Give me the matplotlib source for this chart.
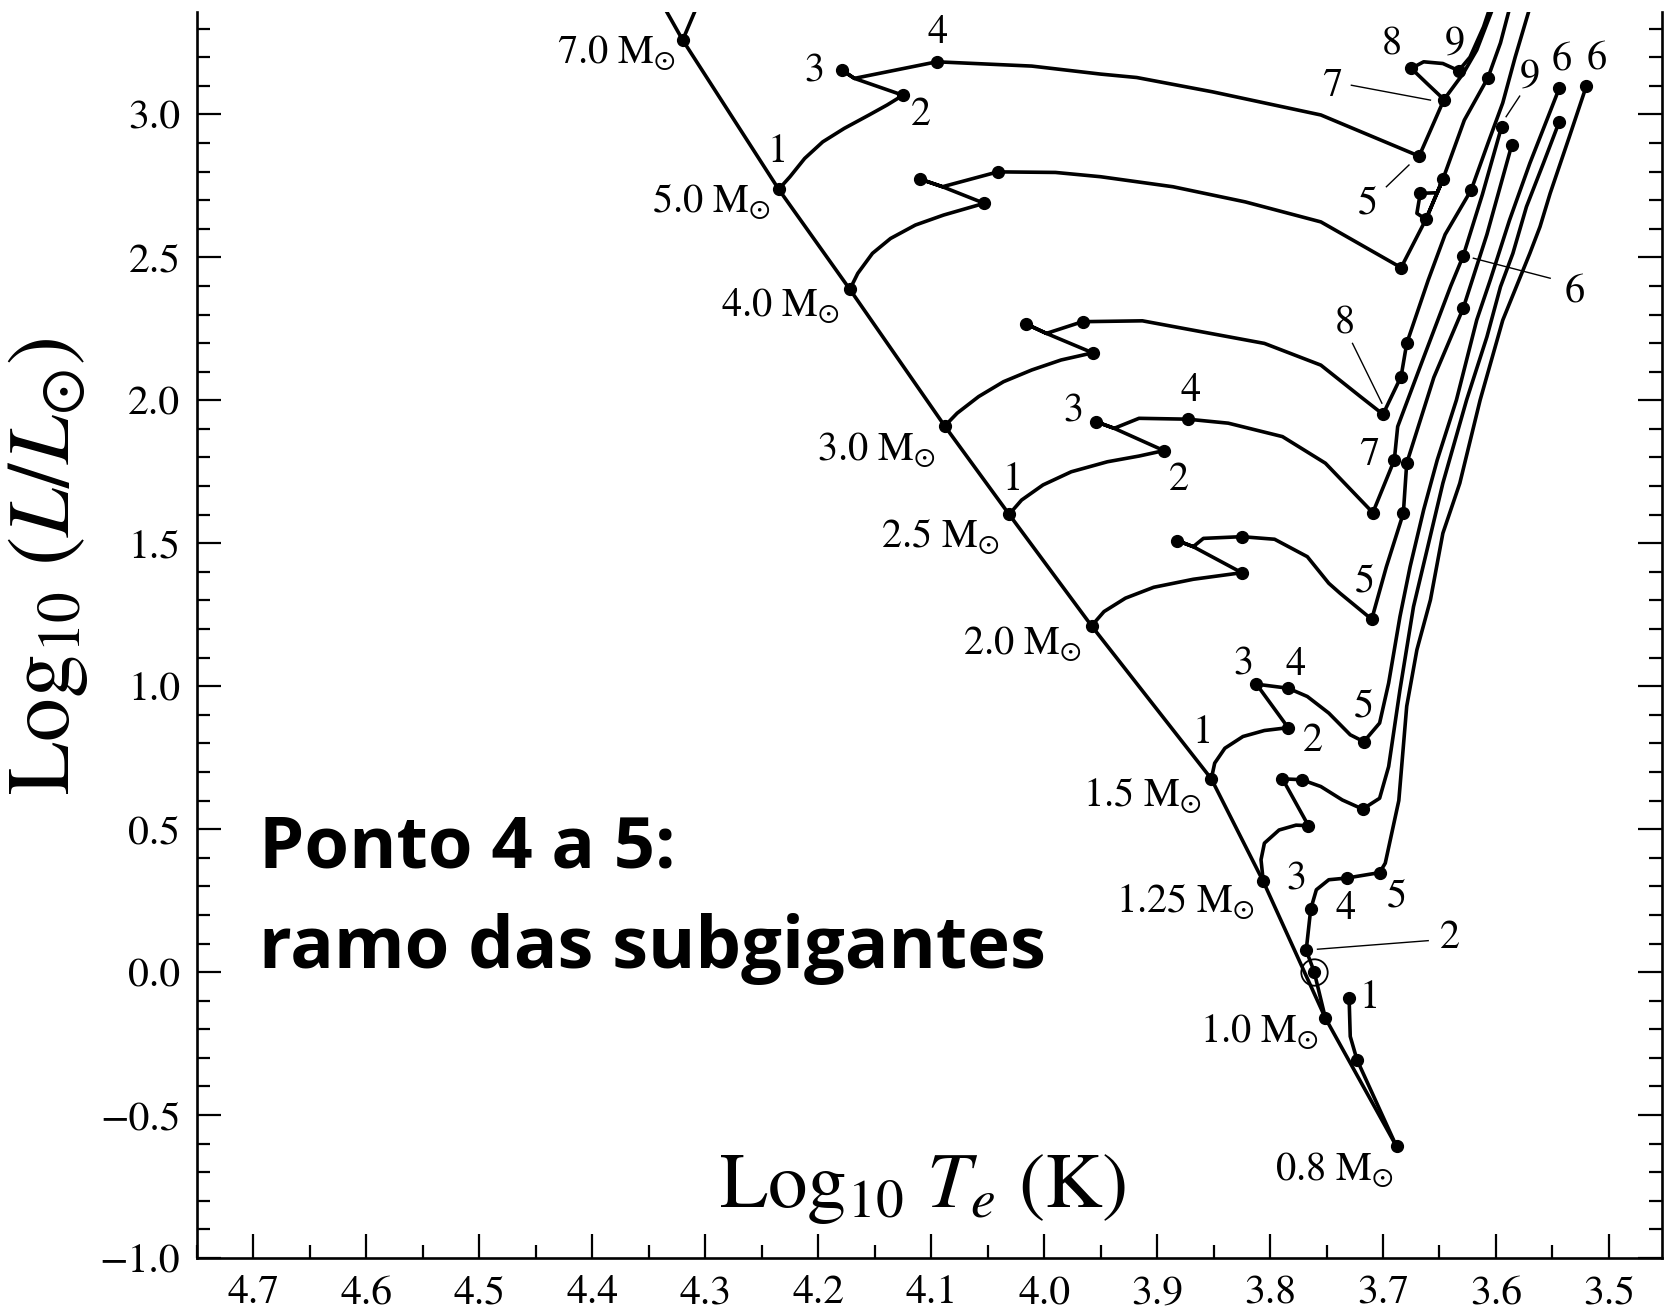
import matplotlib
matplotlib.use("Agg")
import matplotlib.pyplot as plt
from matplotlib.ticker import MultipleLocator, FuncFormatter

plt.rcParams["font.family"] = "STIXGeneral"
plt.rcParams["mathtext.fontset"] = "stix"

# evolutionary tracks: log Te, log L, and indices of the numbered points
t7_T = [4.320, 4.305]
t7_L = [3.260, 3.400]
t7_dots = [0]

t5_T = [4.235, 4.225, 4.212, 4.196, 4.177, 4.155, 4.139, 4.125, 4.168, 4.179,
        4.168, 4.095, 4.011, 3.950, 3.918, 3.851, 3.755, 3.668, 3.646, 3.629,
        3.617, 3.600]
t5_L = [2.738, 2.782, 2.846, 2.904, 2.951, 2.998, 3.033, 3.067, 3.126, 3.155,
        3.126, 3.184, 3.169, 3.141, 3.129, 3.079, 2.998, 2.854, 3.052, 3.143,
        3.225, 3.400]
t5_dots = [0, 7, 9, 11, 17, 18]

# blue loop of the 5 Msun star (7 -> 8 -> 9)
loop5_T = [3.646, 3.661, 3.675, 3.664, 3.647, 3.633, 3.623, 3.611, 3.603]
loop5_L = [3.052, 3.108, 3.161, 3.184, 3.178, 3.153, 3.200, 3.306, 3.400]
loop5_dots = [2, 5]

t4_T = [4.172, 4.165, 4.152, 4.136, 4.114, 4.089, 4.053, 4.090, 4.110, 4.090,
        4.041, 3.990, 3.950, 3.886, 3.822, 3.755, 3.684, 3.662, 3.647, 3.652,
        3.667, 3.670, 3.662, 3.647, 3.628, 3.607, 3.596, 3.586]
t4_L = [2.388, 2.444, 2.514, 2.566, 2.613, 2.648, 2.689, 2.747, 2.774, 2.747,
        2.799, 2.797, 2.782, 2.747, 2.694, 2.624, 2.464, 2.633, 2.773, 2.726,
        2.724, 2.654, 2.633, 2.773, 2.980, 3.129, 3.250, 3.400]
t4_dots = [0, 6, 8, 10, 16, 17, 18, 20, 25]

t3_T = [4.088, 4.077, 4.058, 4.036, 4.011, 3.985, 3.957, 3.998, 4.016, 3.998,
        3.966, 3.913, 3.805, 3.755, 3.720, 3.700, 3.684, 3.679, 3.660, 3.645,
        3.622, 3.607, 3.594, 3.583, 3.568]
t3_L = [1.910, 1.955, 2.013, 2.065, 2.106, 2.141, 2.166, 2.234, 2.267, 2.234,
        2.275, 2.278, 2.199, 2.123, 2.013, 1.951, 2.083, 2.199, 2.420, 2.580,
        2.735, 2.900, 3.040, 3.200, 3.400]
t3_dots = [0, 6, 8, 10, 15, 16, 17, 20]

t25_T = [4.031, 4.020, 4.001, 3.976, 3.944, 3.916, 3.894, 3.938, 3.954, 3.938,
         3.916, 3.873, 3.837, 3.789, 3.751, 3.709, 3.690, 3.687, 3.664, 3.640,
         3.629, 3.612, 3.595]
t25_L = [1.601, 1.651, 1.704, 1.750, 1.785, 1.805, 1.824, 1.902, 1.925, 1.902,
         1.937, 1.934, 1.920, 1.873, 1.780, 1.607, 1.791, 1.908, 2.150, 2.400,
         2.505, 2.720, 2.957]
t25_dots = [0, 6, 8, 11, 15, 16, 20, 22]

t2_T = [3.958, 3.947, 3.928, 3.903, 3.868, 3.825, 3.868, 3.882, 3.868, 3.859,
        3.825, 3.796, 3.767, 3.748, 3.738, 3.710, 3.697, 3.682, 3.679, 3.655,
        3.629, 3.608, 3.586]
t2_L = [1.211, 1.261, 1.308, 1.346, 1.374, 1.397, 1.488, 1.509, 1.488, 1.517,
        1.523, 1.514, 1.453, 1.360, 1.325, 1.234, 1.418, 1.605, 1.780, 2.080,
        2.322, 2.580, 2.893]
t2_dots = [0, 5, 7, 10, 15, 17, 18, 20, 22]

t15_T = [3.852, 3.849, 3.840, 3.824, 3.805, 3.784, 3.812, 3.784, 3.767, 3.748,
         3.729, 3.717, 3.703, 3.695, 3.685, 3.676, 3.664, 3.652, 3.635, 3.617,
         3.605, 3.588, 3.570, 3.555, 3.544]
t15_L = [0.676, 0.731, 0.783, 0.824, 0.845, 0.855, 1.007, 0.993, 0.964, 0.906,
         0.830, 0.806, 0.871, 1.011, 1.243, 1.418, 1.617, 1.791, 2.001, 2.281,
         2.421, 2.630, 2.829, 2.980, 3.091]
t15_dots = [0, 5, 6, 7, 11, 24]

t125_T = [3.806, 3.808, 3.805, 3.792, 3.777, 3.766, 3.789, 3.772, 3.755, 3.736,
          3.718, 3.703, 3.695, 3.685, 3.673, 3.661, 3.647, 3.626, 3.608, 3.596,
          3.585, 3.573, 3.558, 3.544]
t125_L = [0.317, 0.393, 0.451, 0.497, 0.514, 0.512, 0.676, 0.673, 0.649, 0.602,
          0.570, 0.608, 0.719, 0.987, 1.278, 1.477, 1.710, 2.001, 2.222, 2.397,
          2.514, 2.677, 2.829, 2.974]
t125_dots = [0, 5, 6, 7, 10, 23]

t10_T = [3.751, 3.761, 3.768, 3.764, 3.759, 3.748, 3.732, 3.703, 3.698, 3.686,
         3.679, 3.670, 3.658, 3.647, 3.632, 3.614, 3.594, 3.582, 3.570, 3.561,
         3.552, 3.535, 3.520]
t10_L = [-0.161, 0.002, 0.076, 0.220, 0.288, 0.323, 0.329, 0.348, 0.381, 0.600,
         0.930, 1.127, 1.302, 1.535, 1.710, 2.001, 2.280, 2.397, 2.514, 2.607,
         2.724, 2.922, 3.099]
t10_dots = [0, 1, 2, 3, 6, 7, 22]

t08_T = [3.688, 3.723, 3.729, 3.730]
t08_L = [-0.610, -0.307, -0.225, -0.091]
t08_dots = [0, 1, 3]

masses = ["7.0", "5.0", "4.0", "3.0", "2.5", "2.0", "1.5", "1.25", "1.0", "0.8"]
zams_top = (4.340, 3.400)

tracks = [(t7_T, t7_L, t7_dots), (t5_T, t5_L, t5_dots), (t4_T, t4_L, t4_dots),
          (t3_T, t3_L, t3_dots), (t25_T, t25_L, t25_dots), (t2_T, t2_L, t2_dots),
          (t15_T, t15_L, t15_dots), (t125_T, t125_L, t125_dots),
          (t10_T, t10_L, t10_dots), (t08_T, t08_L, t08_dots)]

# where each mass label sits (right edge, middle)
mass_pos = [(4.326, 3.214), (4.242, 2.693), (4.181, 2.330), (4.096, 1.826),
            (4.039, 1.522), (3.967, 1.148), (3.860, 0.616), (3.813, 0.245),
            (3.757, -0.210), (3.690, -0.692)]

point_labels = [
    ("1", 4.236, 2.869), ("2", 4.109, 2.998), ("3", 4.203, 3.149), ("4", 4.094, 3.283),
    ("5", 3.713, 2.689), ("7", 3.745, 3.097), ("8", 3.692, 3.242), ("9", 3.636, 3.248),
    ("1", 4.028, 1.721), ("2", 3.881, 1.721), ("3", 3.974, 1.960), ("4", 3.870, 2.030),
    ("7", 3.712, 1.809), ("5", 3.716, 1.366), ("8", 3.734, 2.269),
    ("1", 3.860, 0.836), ("2", 3.762, 0.806), ("3", 3.824, 1.074), ("4", 3.777, 1.074),
    ("5", 3.717, 0.929),
    ("3", 3.777, 0.323), ("4", 3.733, 0.218), ("5", 3.688, 0.264), ("2", 3.641, 0.119),
    ("1", 3.712, -0.091),
    ("9", 3.570, 3.131), ("6", 3.542, 3.190), ("6", 3.511, 3.196), ("6", 3.530, 2.380),
]

leaders = [((3.728, 3.102), (3.658, 3.050)), ((3.697, 2.747), (3.677, 2.823)),
           ((3.727, 2.199), (3.701, 1.990)), ((3.620, 2.497), (3.552, 2.427)),
           ((3.579, 3.064), (3.591, 2.992)), ((3.758, 0.080), (3.660, 0.110))]

fig = plt.figure(figsize=(16.68, 13.10), dpi=100)
ax = fig.add_axes([0.1181, 0.0397, 0.8783, 0.9511])

lw = 2.6
zT = [zams_top[0]] + [T[0] for T, L, d in tracks]
zL = [zams_top[1]] + [L[0] for T, L, d in tracks]
ax.plot(zT, zL, color="black", lw=lw, solid_joinstyle="round", zorder=3)

for T, L, d in tracks + [(loop5_T, loop5_L, loop5_dots)]:
    ax.plot(T, L, color="black", lw=lw, solid_joinstyle="round",
            marker="o", ms=8.5, markevery=d, zorder=3)

# the present-day Sun
ax.plot(t10_T[1], t10_L[1], marker="o", ms=19, mfc="none", mec="black",
        mew=1.3, zorder=4)

for (x0, y0), (x1, y1) in leaders:
    ax.plot([x0, x1], [y0, y1], color="black", lw=1.0, zorder=2)

for m, (x, y) in zip(masses, mass_pos):
    ax.text(x, y, m + r" M$_{\odot}$", fontsize=29, ha="right", va="center")

for s, x, y in point_labels:
    ax.text(x, y, s, fontsize=29, ha="center", va="center")

ax.set_xlim(4.75, 3.453)
ax.set_ylim(-1.0, 3.358)

ax.xaxis.set_major_locator(MultipleLocator(0.1))
ax.xaxis.set_minor_locator(MultipleLocator(0.05))
ax.yaxis.set_major_locator(MultipleLocator(0.5))
ax.yaxis.set_minor_locator(MultipleLocator(0.1))
fmt = FuncFormatter(lambda v, p: f"{v:.1f}".replace("-", "\u2212"))
ax.xaxis.set_major_formatter(fmt)
ax.yaxis.set_major_formatter(fmt)

ax.tick_params(which="both", direction="in", top=False, right=True,
               width=1.6, labelsize=30, pad=12)
ax.tick_params(which="major", length=17)
ax.tick_params(which="minor", length=9.5)
for side in ["left", "right", "bottom"]:
    ax.spines[side].set_linewidth(1.9)
ax.spines["top"].set_visible(False)

ax.set_xlabel(r"Log$_{10}$ $T_e$ (K)", fontsize=57)
ax.xaxis.set_label_coords(0.4956, 0.041)
ax.xaxis.label.set_va("baseline")
ax.set_ylabel(r"Log$_{10}$ $(L/L_{\odot})$", fontsize=63)
ax.yaxis.set_label_coords(-0.102, 0.555)
ax.yaxis.label.set_va("center")

ax.text(0.042, 0.3138, "Ponto 4 a 5:", transform=ax.transAxes, fontsize=52,
        family="Open Sans", weight="bold", ha="left", va="baseline")
ax.text(0.042, 0.2327, "ramo das subgigantes", transform=ax.transAxes, fontsize=52,
        family="Open Sans", weight="bold", ha="left", va="baseline")

fig.savefig("out.png", dpi=100)
